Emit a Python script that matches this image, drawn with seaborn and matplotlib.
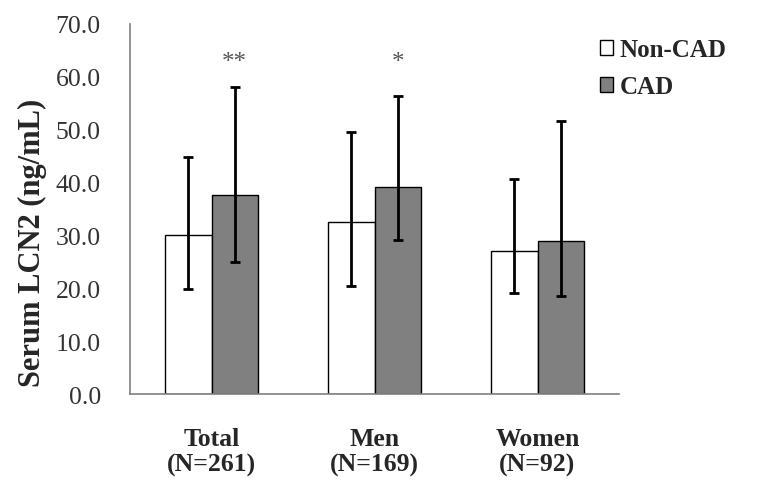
import matplotlib
matplotlib.use("Agg")
import matplotlib.pyplot as plt
from matplotlib.patches import Patch
import seaborn as sns
import pandas as pd

groups = ["Total\n(N=261)", "Men\n(N=169)", "Women\n(N=92)"]
series = ["Non-CAD", "CAD"]
noncad_vals = [30.0, 32.5, 27.0]
cad_vals = [37.6, 39.1, 28.9]
noncad_low = [19.9, 20.5, 19.2]
noncad_high = [44.9, 49.6, 40.7]
cad_low = [25.0, 29.2, 18.5]
cad_high = [58.1, 56.4, 51.6]
stars = ["**", "*", ""]
yticks = [0, 10, 20, 30, 40, 50, 60, 70]

sns.set_style("white")
plt.rcParams["font.family"] = ["Liberation Serif", "DejaVu Serif"]

df = pd.DataFrame({
    "group": groups * 2,
    "status": [series[0]] * 3 + [series[1]] * 3,
    "value": noncad_vals + cad_vals,
})

fig = plt.figure(figsize=(7.81, 4.89), dpi=100)
ax = fig.add_axes([130 / 781, 1 - 395 / 489, 489 / 781, 370 / 489])

sns.barplot(data=df, x="group", y="value", hue="status", order=groups,
            hue_order=series, palette=["white", "#808080"], edgecolor="black",
            linewidth=1.0, width=0.57, errorbar=None, legend=False, ax=ax,
            saturation=1)

bars = ax.patches[:6]
lows = noncad_low + cad_low
highs = noncad_high + cad_high
vals = noncad_vals + cad_vals
for b, v, lo, hi in zip(bars, vals, lows, highs):
    xc = b.get_x() + b.get_width() / 2
    ax.errorbar(xc, v, yerr=[[v - lo], [hi - v]], fmt="none", ecolor="black",
                elinewidth=2.0, capsize=3.6, capthick=2.0)

for b, s in zip(bars[3:], stars):
    if s:
        xc = b.get_x() + b.get_width() / 2
        ax.text(xc, 61.6, s, ha="center", va="baseline", fontsize=18,
                color="#555555")

ax.set_xlim(-0.5, 2.5)
ax.set_ylim(0, 70)
ax.set_yticks(yticks)
ax.set_yticklabels([f"{t:.1f}" for t in yticks], fontsize=18.5, color="#333333")
ax.set_xticks(range(3))
ax.set_xticklabels(groups, fontsize=18.5, fontweight="bold", linespacing=1.15)
ax.tick_params(axis="x", length=0, pad=24)
ax.tick_params(axis="y", length=4, width=1, color="#808080", direction="out", pad=17)
ax.set_xlabel("")
ax.set_ylabel("Serum LCN2 (ng/mL)", fontsize=22, fontweight="bold")
ax.yaxis.set_label_coords(-0.17, 0.41)

for side in ["top", "right"]:
    ax.spines[side].set_visible(False)
for side in ["left", "bottom"]:
    ax.spines[side].set_color("#808080")
    ax.spines[side].set_linewidth(1.2)

handles = [Patch(facecolor="white", edgecolor="black", linewidth=1.0),
           Patch(facecolor="#808080", edgecolor="black", linewidth=1.0)]
fig.legend(handles, series, loc="upper left", bbox_to_anchor=(0.755, 0.94),
           frameon=False, prop={"weight": "bold", "size": 18},
           handlelength=0.55, handleheight=0.55, handletextpad=0.25,
           labelspacing=0.55, borderaxespad=0)

fig.savefig("out.png", dpi=100)
